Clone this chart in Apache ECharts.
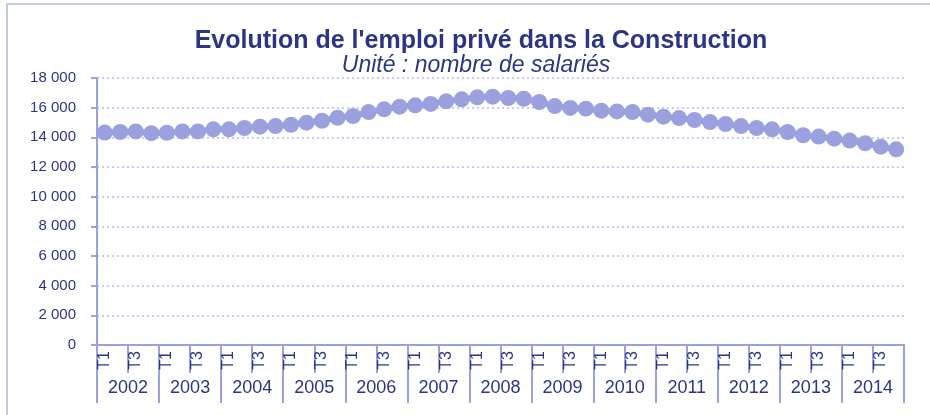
<!DOCTYPE html>
<html>
<head>
<meta charset="utf-8">
<script src="https://cdn.jsdelivr.net/npm/echarts@6/dist/echarts.min.js"></script>
<style>
  html, body { margin: 0; padding: 0; background: #fff; }
  #chart { width: 930px; height: 415px; }
</style>
</head>
<body>
<div id="chart"></div>
<script>
  // années et trimestres
  var years = ['2002', '2003', '2004', '2005', '2006', '2007', '2008', '2009', '2010', '2011', '2012', '2013', '2014'];
  var quarters = ['T1', 'T2', 'T3', 'T4'];
  // nombre de salariés (T1 2002 -> T4 2014)
  var salaries = [
    14320, 14360, 14400, 14280,
    14310, 14400, 14400, 14540,
    14540, 14630, 14720, 14760,
    14850, 14990, 15120, 15320,
    15440, 15700, 15890, 16070,
    16160, 16250, 16430, 16560,
    16700, 16740, 16650, 16600,
    16380, 16110, 15980, 15930,
    15800, 15750, 15710, 15530,
    15390, 15300, 15170, 15030,
    14900, 14760, 14630, 14540,
    14360, 14140, 14050, 13910,
    13780, 13600, 13370, 13190
  ];
  var yTicks = [0, 2000, 4000, 6000, 8000, 10000, 12000, 14000, 16000, 18000];

  var categories = [];
  years.forEach(function (y) {
    quarters.forEach(function (q) { categories.push(q); });
  });

  var navy = '#2b3583';
  var lilac = '#9aa1de';

  var chart = echarts.init(document.getElementById('chart'));
  chart.setOption({
    animation: false,
    textStyle: { fontFamily: 'Liberation Sans, Arial, sans-serif' },
    title: [{
      text: "Evolution de l'emploi privé dans la Construction",
      left: 476,
      textAlign: 'center',
      top: 24,
      textStyle: { color: navy, fontSize: 25, fontWeight: 'bold', fontFamily: 'Liberation Sans' }
    }, {
      text: 'Unité : nombre de salariés',
      left: 471,
      textAlign: 'center',
      top: 49,
      textStyle: { color: navy, fontSize: 23, fontWeight: 'normal', fontStyle: 'italic', fontFamily: 'Liberation Sans' }
    }],
    graphic: [{
      type: 'rect',
      shape: { x: 7, y: 4, width: 940, height: 430 },
      style: { fill: 'none', stroke: '#c3c8ee', lineWidth: 2 },
      silent: true
    }],
    grid: { left: 97, right: 26, top: 78, bottom: 70 },
    xAxis: [{
      type: 'category',
      data: categories,
      boundaryGap: true,
      axisLine: { show: true, lineStyle: { color: lilac, width: 2 } },
      axisTick: { show: true, interval: 1, length: 28, lineStyle: { color: lilac, width: 2 } },
      axisLabel: { interval: 1, rotate: 90, margin: 6, color: navy, fontSize: 16 },
      splitLine: { show: false }
    }, {
      type: 'category',
      data: years,
      position: 'bottom',
      boundaryGap: true,
      axisLine: { show: true, lineStyle: { color: lilac, width: 2 } },
      axisTick: { show: true, interval: 0, length: 58, lineStyle: { color: lilac, width: 2 } },
      axisLabel: { interval: 0, margin: 34, color: navy, fontSize: 18 },
      splitLine: { show: false }
    }],
    yAxis: {
      type: 'value',
      min: yTicks[0],
      max: yTicks[yTicks.length - 1],
      interval: 2000,
      axisLine: { show: true, lineStyle: { color: lilac, width: 2 } },
      axisTick: { show: true, length: 6, lineStyle: { color: lilac, width: 2 } },
      axisLabel: {
        margin: 21,
        color: navy,
        fontSize: 15,
        formatter: function (v) {
          return String(v).replace(/\B(?=(\d{3})+(?!\d))/g, ' ');
        }
      },
      splitLine: { lineStyle: { color: '#c9ccf0', width: 2, type: [2, 3] } }
    },
    series: [{
      type: 'line',
      xAxisIndex: 0,
      data: salaries,
      symbol: 'circle',
      symbolSize: 16,
      showAllSymbol: true,
      lineStyle: { color: lilac, width: 6 },
      itemStyle: { color: lilac }
    }]
  });
</script>
</body>
</html>
